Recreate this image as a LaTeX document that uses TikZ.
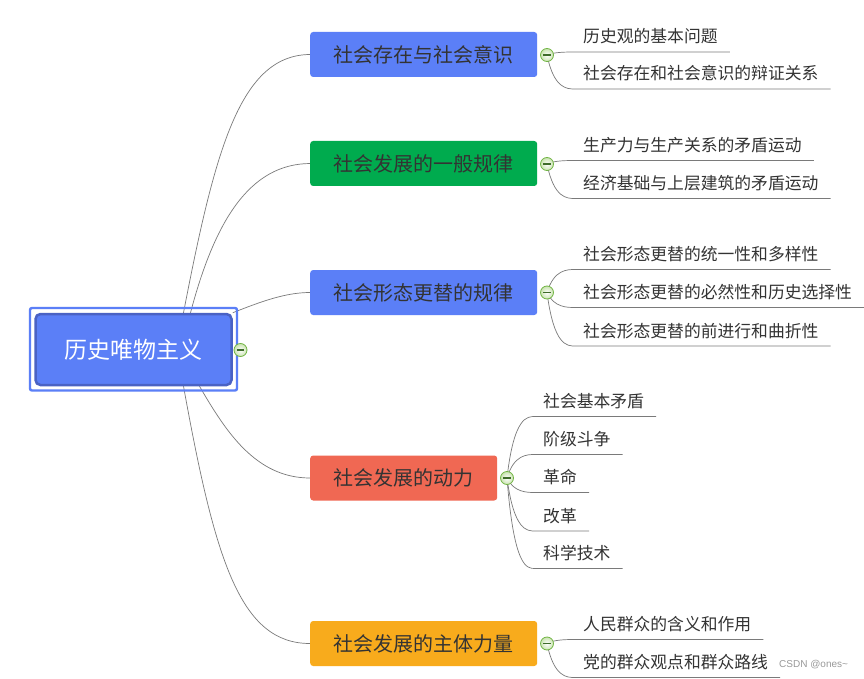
\documentclass[tikz,border=0pt]{standalone}
\usepackage{fontspec}
\newfontfamily\cjk{Noto Sans CJK SC}
\newfontfamily\wm{Liberation Sans}
\usetikzlibrary{calc}
\pgfdeclarelayer{bg}
\pgfsetlayers{bg,main}
\definecolor{bblue}{HTML}{5B7FF7}
\definecolor{bgreen}{HTML}{00AB4E}
\definecolor{bred}{HTML}{F06853}
\definecolor{borange}{HTML}{F8AB1C}
\definecolor{rootborder}{HTML}{4A62C4}
\definecolor{txt}{HTML}{333333}
\definecolor{conn}{HTML}{7A7A7A}
\definecolor{cgreen}{HTML}{72B545}
\definecolor{cfill}{HTML}{C9E3B0}
\definecolor{cminus}{HTML}{3E6B2A}
\tikzset{
  branchbox/.style={rounded corners=3pt, minimum height=45pt, minimum width=227pt,
    inner sep=0pt, font=\cjk\fontsize{20}{24}\selectfont, text=txt, anchor=west},
  leafnode/.style={inner sep=0pt, anchor=west, font=\cjk\fontsize{16.8}{20}\selectfont,
    text=txt, text height=12pt, text depth=2pt},
  collapse/.style={circle, draw=cgreen, line width=0.8pt, minimum size=13pt, inner sep=0pt,
    inner color=white, outer color=cfill,
    path picture={\draw[cminus, line width=1.1pt]
      ([xshift=-3.6pt]path picture bounding box.center) -- ([xshift=3.6pt]path picture bounding box.center);}},
  conn/.style={draw=conn, line width=0.7pt},
}
\newcommand{\leafline}[2]{%
  \path ([xshift=-8pt,yshift=-14pt]#2.west) coordinate (#2s)
        ([xshift=12pt,yshift=-14pt]#2.east) coordinate (#2e)
        ([xshift=7pt]#1.center) coordinate (#2k)
        ([xshift=-8pt]#2s) coordinate (#2q);
  \draw[conn] (#1.center) .. controls (#2k |- #2s) and (#2q) .. (#2s) -- (#2e);}
\begin{document}
\begin{tikzpicture}[x=1pt,y=-1pt]
\useasboundingbox (0,0) rectangle (864,679);

% root
\draw[bblue, line width=2.4pt, rounded corners=2pt] (30,308) rectangle (237,390.5);
\node[fill=bblue, draw=rootborder, line width=2.5pt, rounded corners=5pt,
  minimum width=196pt, minimum height=71pt, inner sep=0pt, text=white,
  font=\cjk\fontsize{23}{28}\selectfont] (root) at (133.5,349.5) {历史唯物主义};
\node[collapse] (c0) at (240.5,350) {};

% branches
\node[branchbox, fill=bblue] (b1) at (310,54.5) {社会存在与社会意识};
\node[branchbox, fill=bgreen] (b2) at (310,163.5) {社会发展的一般规律};
\node[branchbox, fill=bblue] (b3) at (310,292.5) {社会形态更替的规律};
\node[branchbox, fill=bred, minimum width=187pt] (b4) at (310,478) {社会发展的动力};
\node[branchbox, fill=borange] (b5) at (310,643.5) {社会发展的主体力量};

\node[collapse] (c1) at (547,55) {};
\node[collapse] (c2) at (547,164) {};
\node[collapse] (c3) at (547,292.5) {};
\node[collapse] (c4) at (507,478) {};
\node[collapse] (c5) at (547,643.5) {};

% leaves
\node[leafnode] (l11) at (583,38) {历史观的基本问题};
\node[leafnode] (l12) at (583,75) {社会存在和社会意识的辩证关系};
\node[leafnode] (l21) at (583,146.5) {生产力与生产关系的矛盾运动};
\node[leafnode] (l22) at (583,184.5) {经济基础与上层建筑的矛盾运动};
\node[leafnode] (l31) at (583,255.5) {社会形态更替的统一性和多样性};
\node[leafnode] (l32) at (583,293.5) {社会形态更替的必然性和历史选择性};
\node[leafnode] (l33) at (583,332) {社会形态更替的前进行和曲折性};
\node[leafnode] (l41) at (543,402.5) {社会基本矛盾};
\node[leafnode] (l42) at (543,440.5) {阶级斗争};
\node[leafnode] (l43) at (543,478.5) {革命};
\node[leafnode] (l44) at (543,517) {改革};
\node[leafnode] (l45) at (543,554.5) {科学技术};
\node[leafnode] (l51) at (583,625.5) {人民群众的含义和作用};
\node[leafnode] (l52) at (583,663.5) {党的群众观点和群众路线};

\node[font=\wm\fontsize{10}{12}\selectfont, text=black!40, anchor=west, inner sep=0pt]
  (wmk) at (779,665) {CSDN @ones\textasciitilde};

\begin{pgfonlayer}{bg}
  \fill[white] (0,0) rectangle (864,679);
  \draw[conn] ([xshift=50pt]root.north) .. controls (215,150) and (240,55) .. (b1.west);
  \draw[conn] ([xshift=57pt]root.north) .. controls (215,220) and (250,164) .. (b2.west);
  \draw[conn] (root.north east) .. controls (260,302) and (285,292.5) .. (b3.west);
  \draw[conn] ([xshift=66pt]root.south) .. controls (225,430) and (255,478) .. (b4.west);
  \draw[conn] ([xshift=50pt]root.south) .. controls (215,560) and (240,643.5) .. (b5.west);
  \leafline{c1}{l11}
  \leafline{c1}{l12}
  \leafline{c2}{l21}
  \leafline{c2}{l22}
  \leafline{c3}{l31}
  \leafline{c3}{l32}
  \leafline{c3}{l33}
  \leafline{c4}{l41}
  \leafline{c4}{l42}
  \leafline{c4}{l43}
  \leafline{c4}{l44}
  \leafline{c4}{l45}
  \leafline{c5}{l51}
  \leafline{c5}{l52}
\end{pgfonlayer}
\end{tikzpicture}
\end{document}
